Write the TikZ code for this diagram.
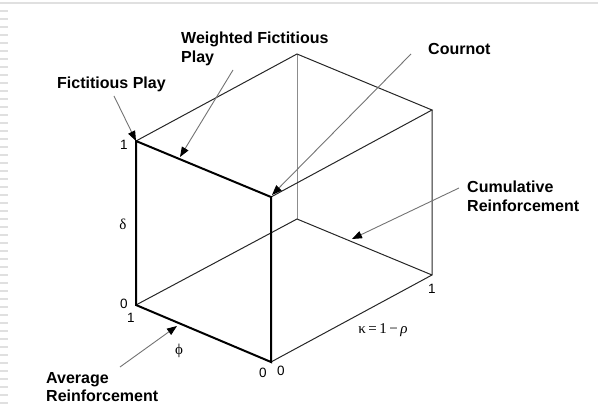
\documentclass[tikz,border=0pt]{standalone}
\usepackage{fontspec}
\setmainfont{Liberation Sans}
\newfontfamily\greekfont{Liberation Serif}
\usetikzlibrary{arrows.meta}

\begin{document}
\begin{tikzpicture}[x=1pt,y=-1pt,
  tag/.style={font=\fontsize{16}{18.5}\selectfont\bfseries,align=left,inner sep=0pt,anchor=north west},
  num/.style={font=\fontsize{13.5}{15}\selectfont,inner sep=0pt},
  sym/.style={font=\greekfont\fontsize{15}{17}\selectfont,inner sep=0pt},
  front/.style={line width=2pt},
  back/.style={line width=1pt,black!85},
  pointer/.style={draw=black!55,line width=0.9pt,-{Triangle[length=10pt,width=7.5pt,color=black]}}]
\useasboundingbox (0,0) rectangle (598,409);

% page edge
\draw[black!12,line width=1.5pt] (0,3)--(598,3);
\foreach \y in {11,19,...,403}
  \draw[black!12,line width=2pt] (0,\y)--(8,\y);

% cube corners
\coordinate (ftl) at (136,141);
\coordinate (fbl) at (136,305);
\coordinate (fbr) at (271,362);
\coordinate (ftr) at (271,197);
\coordinate (btl) at (297,54);
\coordinate (btr) at (432,110);
\coordinate (bbr) at (432,275);
\coordinate (bbl) at (297,219);

\draw[back,black!45] (btl)--(bbl);
\draw[back] (fbl)--(bbl)--(bbr);
\draw[back] (ftl)--(btl)--(btr)--(ftr);
\draw[back] (btr)--(bbr)--(fbr);
\draw[front] (ftl)--(fbl)--(fbr)--(ftr)--cycle;

% axis labels
\node[num] (d1) at (124,145) {1};
\node[sym] (delta) at (123,224) {δ};
\node[num] (d0) at (124,304) {0};
\node[num] (p1) at (131,318) {1};
\node[sym] (phi) at (179,351) {ϕ};
\node[num] (p0) at (263,373) {0};
\node[num] (k0) at (281,371) {0};
\node[num] (k1) at (432,289) {1};
\node[sym] (kappa) at (383,330) {κ\,=\,1\,−\,\textit{ρ}};

% model names
\node[tag] (fp) at (57,77) {Fictitious Play};
\node[tag] (wfp) at (181,32) {Weighted Fictitious\\Play};
\node[tag] (cournot) at (428,43) {Cournot};
\node[tag] (cum) at (467,181) {Cumulative\\Reinforcement};
\node[tag] (avg) at (46,372) {Average\\Reinforcement};

\coordinate (fp tail) at (114,96);
\coordinate (wfp tail) at (233,70);
\coordinate (wfp tip) at (180,157);
\coordinate (cournot tail) at (411,54);
\coordinate (cournot tip) at (272,195);
\coordinate (cum tail) at (459,188);
\coordinate (cum tip) at (352,239);
\coordinate (avg tail) at (120,367);
\coordinate (avg tip) at (177,326);

\draw[pointer] (fp tail)--(ftl);
\draw[pointer] (wfp tail)--(wfp tip);
\draw[pointer] (cournot tail)--(cournot tip);
\draw[pointer] (cum tail)--(cum tip);
\draw[pointer] (avg tail)--(avg tip);
\end{tikzpicture}
\end{document}
